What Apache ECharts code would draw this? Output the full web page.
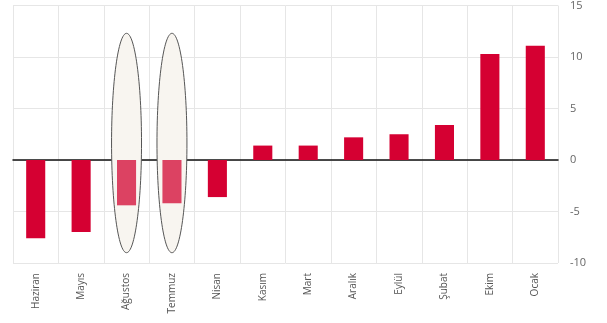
<!DOCTYPE html>
<html>
<head>
<meta charset="utf-8">
<script src="https://cdn.jsdelivr.net/npm/echarts@6/dist/echarts.min.js"></script>
<style>
  html, body { margin: 0; padding: 0; background: #fff; }
  #chart { width: 607px; height: 323px; }
</style>
</head>
<body>
<div id="chart"></div>
<script>
// months (x axis)
const months = ['Haziran', 'Mayıs', 'Ağustos', 'Temmuz', 'Nisan', 'Kasım', 'Mart', 'Aralık', 'Eylül', 'Şubat', 'Ekim', 'Ocak']
const values = [-7.6, -7.0, -4.4, -4.2, -3.6, 1.4, 1.4, 2.2, 2.5, 3.4, 10.3, 11.1]
// highlighted months (ellipse marks): [category index, top, bottom]
const highlights = [[2, 12.3, -9.0], [3, 12.3, -9.0]]
const yTicks = [-10, -5, 0, 5, 10, 15]

const highlightIdx = highlights.map(h => h[0])

const myChart = echarts.init(document.getElementById('chart'))

const option = {
    animation: false,
    grid: { left: 13, right: 49, top: 5, bottom: 60 },
    xAxis: {
        type: 'category',
        data: months,
        boundaryGap: true,
        axisLine: { onZero: true, lineStyle: { color: '#111', width: 1.5 } },
        axisTick: { show: false },
        axisLabel: {
            interval: 0,
            rotate: 90,
            margin: 10,
            color: '#555',
            fontFamily: 'Open Sans',
            fontSize: 10
        },
        splitLine: { show: true, interval: 0, lineStyle: { color: '#e6e6e6' } }
    },
    yAxis: {
        type: 'value',
        position: 'right',
        min: yTicks[0],
        max: yTicks[yTicks.length - 1],
        interval: 5,
        axisLine: { show: false },
        axisTick: { show: false },
        axisLabel: {
            margin: 12,
            color: '#666',
            fontFamily: 'Open Sans',
            fontSize: 11
        },
        splitLine: { lineStyle: { color: '#e6e6e6' } }
    },
    series: [
        {
            type: 'custom',
            data: highlights,
            z: 1,
            renderItem: (params, api) => {
                const top = api.coord([api.value(0), api.value(1)])
                const bottom = api.coord([api.value(0), api.value(2)])
                const w = api.size([1, 0])[0] * 0.66
                return {
                    type: 'ellipse',
                    shape: {
                        cx: top[0],
                        cy: (top[1] + bottom[1]) / 2,
                        rx: w / 2,
                        ry: (bottom[1] - top[1]) / 2
                    },
                    style: { fill: '#f8f5f0', stroke: '#555', lineWidth: 1 }
                }
            }
        },
        {
            type: 'bar',
            z: 2,
            barWidth: '42%',
            data: values.map((v, i) => ({
                value: v,
                itemStyle: { color: highlightIdx.includes(i) ? '#dc4262' : '#d50032' }
            }))
        }
    ]
}

myChart.setOption(option)
</script>
</body>
</html>
